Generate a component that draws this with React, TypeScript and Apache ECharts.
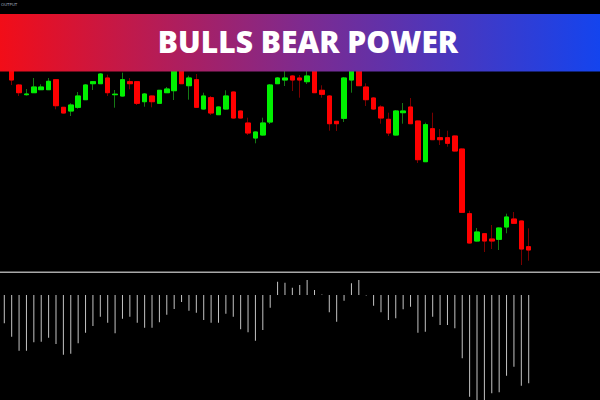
import React, { useEffect, useRef } from "react";
import * as echarts from "echarts";

const title = "BULLS BEAR POWER";
const cornerLabel = "OUTPUT";

const categories: string[] = [
  "1","2","3","4","5","6","7","8","9","10","11","12","13","14","15","16","17","18",
  "19","20","21","22","23","24","25","26","27","28","29","30","31","32","33","34","35","36",
  "37","38","39","40","41","42","43","44","45","46","47","48","49","50","51","52","53","54",
  "55","56","57","58","59","60","61","62","63","64","65","66","67","68","69","70","71","72",
];

const opens = [
  236, 232, 215, 205.3, 207.3, 210.3, 210.3, 220.3, 192.7, 189, 192.7, 200.3, 216.3, 216.3, 222, 205.3, 204, 218.3,
  218.3, 198.3, 204, 196.7, 207.3, 209.3, 235, 214.3, 220.3, 191, 202.3, 185.3, 191, 208, 189, 177, 162, 165,
  178, 216.3, 220, 224, 222, 218.3, 230, 209.7, 204, 178.7, 181.7, 220, 234, 213, 202, 193, 180.7, 165,
  187.3, 193, 179, 138.3, 171.3, 162.3, 162.3, 164, 151, 86.3, 59, 66.3, 61, 60.7, 73, 81, 79, 53.3,
];
const closes = [
  232, 220, 207.3, 206, 213, 213, 218.7, 194.3, 187, 195, 204, 215, 218.3, 226, 207.3, 205.8, 220.3, 216.3,
  196.7, 206, 198.3, 209.7, 211, 232, 216.3, 222, 192.7, 204, 187, 193, 204, 182, 182, 167, 168, 177,
  215, 222, 222, 220, 220, 224, 207.3, 205.7, 176.3, 176.3, 222, 232, 214.3, 200.3, 191, 182, 167, 189,
  189, 176.3, 140.3, 175.3, 160.3, 160.3, 156.7, 149, 87.7, 57, 68, 59, 59, 72, 83, 76.7, 51, 50,
];
const lows = [
  230, 215, 204, 204.5, 207, 210, 210, 190.7, 186.5, 184, 191.3, 200, 210, 216, 204, 192.3, 203.5, 210.7,
  195, 193.3, 192.7, 196, 207, 200, 216, 200.3, 192, 190.5, 185, 185, 190.5, 181.5, 181.5, 165, 156.7, 164.5,
  176, 216, 214, 209, 202.3, 216, 207, 202.3, 169.3, 169, 178, 207.3, 214, 194, 190, 176.3, 164, 164.5,
  176.3, 176, 137, 138, 160, 155, 153.3, 148.5, 87, 56.5, 58.5, 48, 51, 50, 66.7, 76.5, 35, 39.3,
];
const highs = [
  238, 238, 216, 211, 222, 215.7, 222, 221, 193, 196.7, 208, 216, 219, 227, 225.3, 210, 227.3, 222,
  219, 207, 204.5, 210, 213, 238, 240, 224.3, 226, 207.3, 204, 193.5, 209.7, 208.5, 189.5, 182.3, 168.5, 182.3,
  216, 223, 230, 225, 225, 230, 235, 214.7, 205, 179, 223, 238, 238, 216.7, 203, 194.7, 187.3, 190,
  197, 202, 179.5, 177.3, 187.3, 171, 169.3, 164.5, 151.5, 89.3, 72, 67, 75, 72.5, 86.3, 88, 79.5, 71.7,
];

const power = [
  -28.3, -41.7, -55.7, -55.7, -47.3, -46.7, -42.7, -49, -59.7, -58.7, -48.3, -37.7, -31, -21.7, -27.7, -38.3, -23.7, -21.7,
  -27.7, -32.7, -32.7, -27.3, -19.7, -14, -7, -15.7, -17.7, -25, -27.7, -27.7, -18.7, -21.7, -34.3, -37.3, -45.7, -35,
  -12.7, 13.3, 12.3, 7.3, 10, 15, 5, 0.5, -17.3, -26.7, -5.7, 11.7, 15, -0.5, -10.7, -17.3, -25, -23.3,
  -14.3, -11.7, -37.7, -36.7, -21.7, -30, -30, -33.3, -63.3, -101.7, -108, -110, -98.3, -97.3, -80.7, -71.7, -90.7, -88.3,
];

export default function App() {
  const ref = useRef<HTMLDivElement>(null);
  useEffect(() => {
    if (!ref.current) return;
    const chart = echarts.init(ref.current, undefined, { renderer: "svg" });
    const full = opens.map((o, i) => [o, closes[i], lows[i], highs[i]]);
    const bodies = opens.map((o, i) => [o, closes[i], Math.min(o, closes[i]), Math.max(o, closes[i])]);
    const gridPos = { left: 0.6, width: 531.8, top: 0, height: 400 };
    chart.setOption({
      animation: false,
      backgroundColor: "#000000",
      grid: [gridPos, gridPos],
      xAxis: [
        { type: "category", data: categories, gridIndex: 0, show: false, boundaryGap: true },
        { type: "category", data: categories, gridIndex: 1, show: false, boundaryGap: true },
      ],
      yAxis: [
        { type: "value", gridIndex: 0, min: -100, max: 300, show: false, splitLine: { show: false } },
        { type: "value", gridIndex: 1, min: -105, max: 295, show: false, splitLine: { show: false } },
      ],
      series: [
        {
          type: "candlestick",
          xAxisIndex: 0,
          yAxisIndex: 0,
          data: full,
          barWidth: 5,
          itemStyle: {
            color: "#157a15",
            color0: "#7a0000",
            borderColor: "#157a15",
            borderColor0: "#7a0000",
            borderWidth: 1,
          },
        },
        {
          type: "candlestick",
          xAxisIndex: 0,
          yAxisIndex: 0,
          data: bodies,
          barWidth: 5,
          itemStyle: {
            color: "#00f000",
            color0: "#ff0000",
            borderColor: "#00f000",
            borderColor0: "#ff0000",
            borderWidth: 1,
          },
        },
        {
          type: "bar",
          xAxisIndex: 1,
          yAxisIndex: 1,
          data: power,
          barWidth: 1,
          itemStyle: { color: "#c4c4c4" },
        },
      ],
      graphic: [
        {
          type: "rect",
          z: 100,
          shape: { x: 0, y: 14, width: 600, height: 57.5 },
          style: {
            fill: new echarts.graphic.LinearGradient(0, 0, 1, 0, [
              { offset: 0, color: "#f20d18" },
              { offset: 0.5, color: "#7f2a8e" },
              { offset: 1, color: "#1444ee" },
            ]),
          },
        },
        {
          type: "text",
          z: 101,
          x: 308,
          y: 41.5,
          style: {
            text: title,
            fill: "#ffffff",
            font: "800 30px 'Open Sans'",
            textAlign: "center",
            textVerticalAlign: "middle",
          },
        },
        {
          type: "text",
          z: 101,
          x: 1,
          y: 4.5,
          style: {
            text: cornerLabel,
            fill: "#9aa0b8",
            font: "4px 'DejaVu Sans'",
            textAlign: "left",
            textVerticalAlign: "middle",
          },
        },
        {
          type: "line",
          z: 50,
          shape: { x1: 0, y1: 272.3, x2: 600, y2: 272.3 },
          style: { stroke: "#a8a8a8", lineWidth: 1.5 },
        },
      ],
    });
    return () => chart.dispose();
  }, []);
  return (
    <div
      ref={ref}
      style={{ position: "absolute", left: 0, top: 0, width: 600, height: 400 }}
    />
  );
}
